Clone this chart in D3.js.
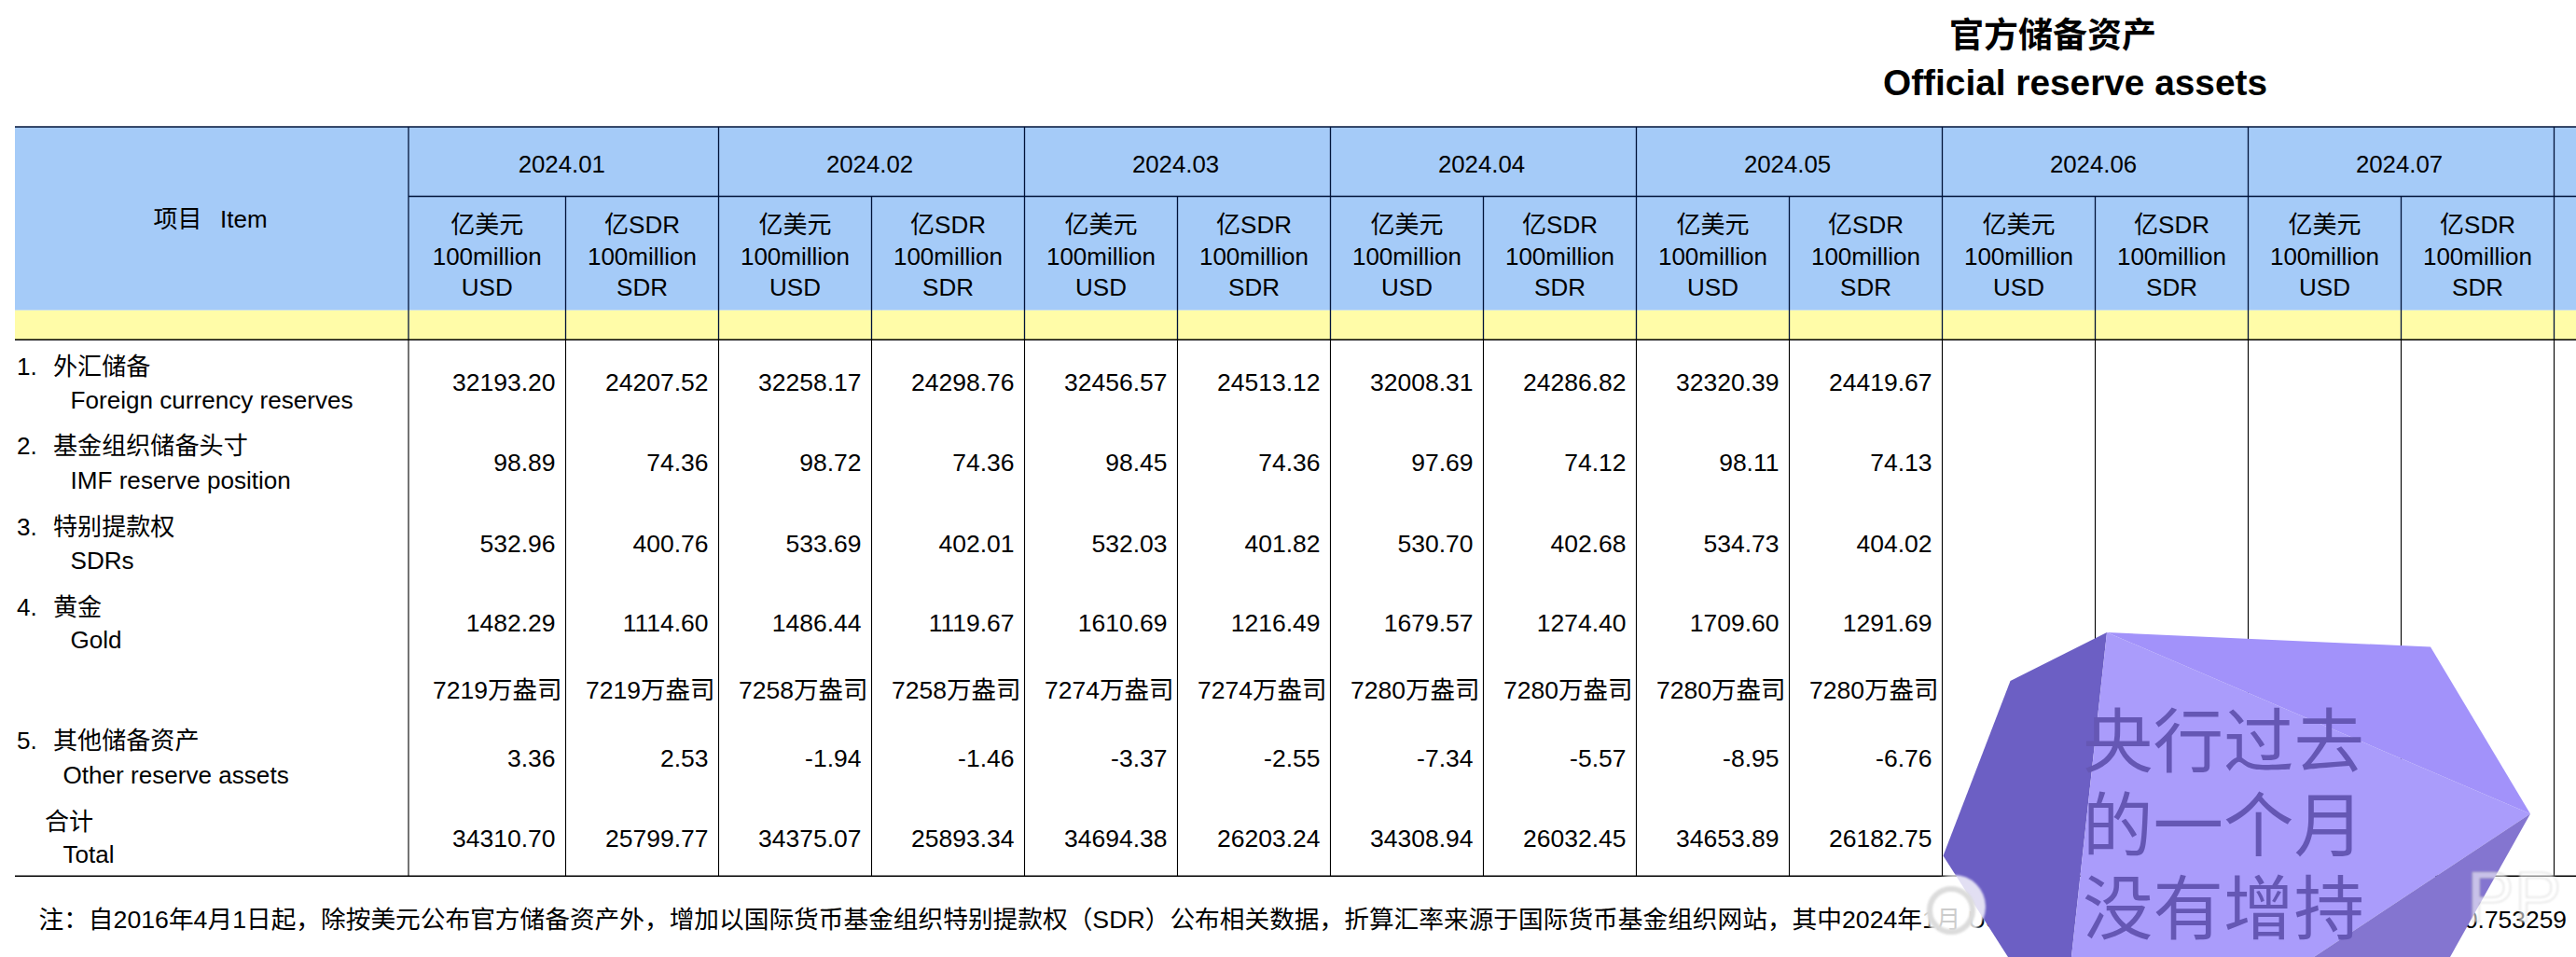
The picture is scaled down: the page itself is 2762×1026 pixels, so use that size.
<!DOCTYPE html>
<html><head><meta charset="utf-8">
<script src="https://cdnjs.cloudflare.com/ajax/libs/d3/7.8.5/d3.min.js"></script>
<style>
html,body{margin:0;padding:0;background:#fff;overflow:hidden}
svg{display:block}
text{font-family:"Liberation Sans","Noto Sans CJK SC",sans-serif;fill:#000}
</style></head><body>
<script>
const months=["2024.01","2024.02","2024.03","2024.04","2024.05","2024.06","2024.07"];
const unitCN=["亿美元","亿SDR"];
const unitEN=["100million","100million"];
const unitCode=["USD","SDR"];
const rowKeys=["foreign","imf","sdr","gold","ounces","other","total"];
const foreign=[32193.20,24207.52,32258.17,24298.76,32456.57,24513.12,32008.31,24286.82,32320.39,24419.67];
const imf=[98.89,74.36,98.72,74.36,98.45,74.36,97.69,74.12,98.11,74.13];
const sdr=[532.96,400.76,533.69,402.01,532.03,401.82,530.70,402.68,534.73,404.02];
const gold=[1482.29,1114.60,1486.44,1119.67,1610.69,1216.49,1679.57,1274.40,1709.60,1291.69];
const ounces=[7219,7219,7258,7258,7274,7274,7280,7280,7280,7280];
const other=[3.36,2.53,-1.94,-1.46,-3.37,-2.55,-7.34,-5.57,-8.95,-6.76];
const total=[34310.70,25799.77,34375.07,25893.34,34694.38,26203.24,34308.94,26032.45,34653.89,26182.75];
const rowCN=["1.","2.","3.","4.","5."];
const labelCN=["外汇储备","基金组织储备头寸","特别提款权","黄金","其他储备资产"];
const labelEN=["Foreign currency reserves","IMF reserve position","SDRs","Gold","Other reserve assets"];
const totalCN="合计", totalEN="Total";
const titleCN="官方储备资产", titleEN="Official reserve assets", itemCN="项目", itemEN="Item";
const note="注：自2016年4月1日起，除按美元公布官方储备资产外，增加以国际货币基金组织特别提款权（SDR）公布相关数据，折算汇率来源于国际货币基金组织网站，其中2024年1月 US";
const noteEnd="0.753259";
const badge=["央行过去","的一个月","没有增持"];

const W=2762,H=1026;
const svg=d3.select("body").append("svg").attr("width",W).attr("height",H);
const x=d3.scaleLinear().domain([0,1,15]).range([438,606.5,2902.5]);
const rowY=d3.scaleOrdinal().domain(rowKeys).range([409.5,495.5,582,667.5,739,812.5,898]);
const LEFT=16,TOP=136,MID=210.5,YEL=332.7,YB=364.3,BOT=939.3;
const HEAD="#001338";

svg.append("rect").attr("x",LEFT).attr("y",TOP).attr("width",W-LEFT).attr("height",YEL-TOP).attr("fill","#A5CBF8");
svg.append("rect").attr("x",LEFT).attr("y",YEL).attr("width",W-LEFT).attr("height",YB-YEL).attr("fill","#FFFCA8");

// grid
const subEdges=d3.range(0,15);
svg.append("g").selectAll("line").data(subEdges).join("line")
  .attr("x1",d=>x(d)).attr("x2",d=>x(d))
  .attr("y1",d=>d%2===0?TOP:MID).attr("y2",YB)
  .attr("stroke",HEAD).attr("stroke-width",1.3);
svg.append("g").selectAll("line").data(subEdges).join("line")
  .attr("x1",d=>x(d)).attr("x2",d=>x(d))
  .attr("y1",YB).attr("y2",BOT)
  .attr("stroke","#000").attr("stroke-width",1.1);
const hl=[[LEFT,TOP,HEAD],[438,MID,HEAD],[LEFT,YB,"#000"],[LEFT,BOT,"#000"]];
svg.append("g").selectAll("line").data(hl).join("line")
  .attr("x1",d=>d[0]).attr("x2",W).attr("y1",d=>d[1]).attr("y2",d=>d[1])
  .attr("stroke",d=>d[2]).attr("stroke-width",1.6);

// title
svg.append("text").attr("x",2201).attr("y",38).attr("dy",".36em").attr("text-anchor","middle").attr("font-size",37).attr("font-weight",700).text(titleCN);
svg.append("text").attr("x",2225).attr("y",88).attr("dy",".36em").attr("text-anchor","middle").attr("font-size",38.8).attr("font-weight",700).text(titleEN);

// header
svg.append("text").attr("x",164.5).attr("y",235).attr("dy",".36em").attr("font-size",26).text(itemCN);
svg.append("text").attr("x",236).attr("y",235).attr("dy",".36em").attr("font-size",26).text(itemEN);
svg.selectAll("text.month").data(months).join("text").attr("class","month")
  .attr("x",(d,i)=>(x(2*i)+x(2*i+2))/2-2).attr("y",176).attr("dy",".36em")
  .attr("text-anchor","middle").attr("font-size",25.8).text(d=>d);
const subs=d3.range(0,14);
[[unitCN,240.5],[unitEN,275],[unitCode,307.5]].forEach(([arr,y])=>{
  svg.append("g").selectAll("text").data(subs).join("text")
    .attr("x",d=>(x(d)+x(d+1))/2).attr("y",y).attr("dy",".36em")
    .attr("text-anchor","middle").attr("font-size",26).text(d=>arr[d%2]);
});

// row labels
const lab=svg.append("g").attr("font-size",26.1);
const cnY=[392.5,478,564.5,651,794], enY=[429,515,600.5,686,831], enX=[75.5,75.5,75.5,75.5,67.5];
rowCN.forEach((n,i)=>{
  lab.append("text").attr("x",18).attr("y",cnY[i]).attr("dy",".36em").text(n);
  lab.append("text").attr("x",57).attr("y",cnY[i]).attr("dy",".36em").text(labelCN[i]);
  lab.append("text").attr("x",enX[i]).attr("y",enY[i]).attr("dy",".36em").text(labelEN[i]);
});
lab.append("text").attr("x",48).attr("y",881).attr("dy",".36em").text(totalCN);
lab.append("text").attr("x",67.5).attr("y",916).attr("dy",".36em").text(totalEN);

// values
const f2=d3.format(".2f");
const rows=[["foreign",foreign,f2],["imf",imf,f2],["sdr",sdr,f2],["gold",gold,f2],
  ["ounces",ounces,d=>d+"万盎司"],["other",other,v=>f2(v).replace("−","-")],["total",total,f2]];
rows.forEach(([k,vals,fmt])=>{
  svg.append("g").selectAll("text").data(vals).join("text")
    .attr("x",(d,i)=>x(i+1)-(k==="ounces"?4:11)).attr("y",rowY(k)).attr("dy",".36em")
    .attr("text-anchor","end").attr("font-size",26.5).text(fmt);
});

// note
svg.append("text").attr("x",41.5).attr("y",985).attr("dy",".36em").attr("font-size",26.7).text(note);
svg.append("text").attr("x",2752).attr("y",985).attr("dy",".36em").attr("text-anchor","end").attr("font-size",26.4).text(noteEnd);

// sticker overlay
const facets=[
 {fill:"#6C5FC4",pts:[[2259,678],[2155.5,730],[2083.5,917.5],[2153,1026],[2221,1026]]},
 {fill:"#AA9CFB",pts:[[2259,678],[2713,872.5],[2481,1026],[2221,1026]]},
 {fill:"#A292FA",pts:[[2259,678],[2606,693.5],[2713,872.5]]},
 {fill:"#8475D0",pts:[[2713,872.5],[2627,1026],[2481,1026]]}
];
const poly=d3.line();
svg.append("g").selectAll("path").data(facets).join("path")
  .attr("d",d=>poly(d.pts)+"Z").attr("fill",d=>d.fill);
svg.append("g").selectAll("text").data(badge).join("text")
  .attr("x",2233).attr("y",(d,i)=>795+i*89.5).attr("dy",".36em")
  .attr("font-size",75.5).style("fill","#6557B4").attr("font-family","Noto Sans CJK SC").text(d=>d);

// faint watermark
const defs=svg.append("defs");
defs.append("filter").attr("id","soft").append("feGaussianBlur").attr("stdDeviation",1.2);
const wm=svg.append("g");
wm.append("circle").attr("cx",2095).attr("cy",972).attr("r",34).attr("fill","#fff").attr("fill-opacity",.8).attr("filter","url(#soft)");
wm.append("circle").attr("cx",2092).attr("cy",976).attr("r",23).attr("fill","none").attr("stroke","#dcdcdc").attr("stroke-width",6).attr("filter","url(#soft)");
wm.append("text").attr("x",2645).attr("y",988).attr("font-size",76).style("fill","#fff").style("fill-opacity",.55)
  .style("stroke","#ccc").style("stroke-opacity",.8).style("stroke-width",1).attr("filter","url(#soft)").text("PP");
</script>
</body></html>
